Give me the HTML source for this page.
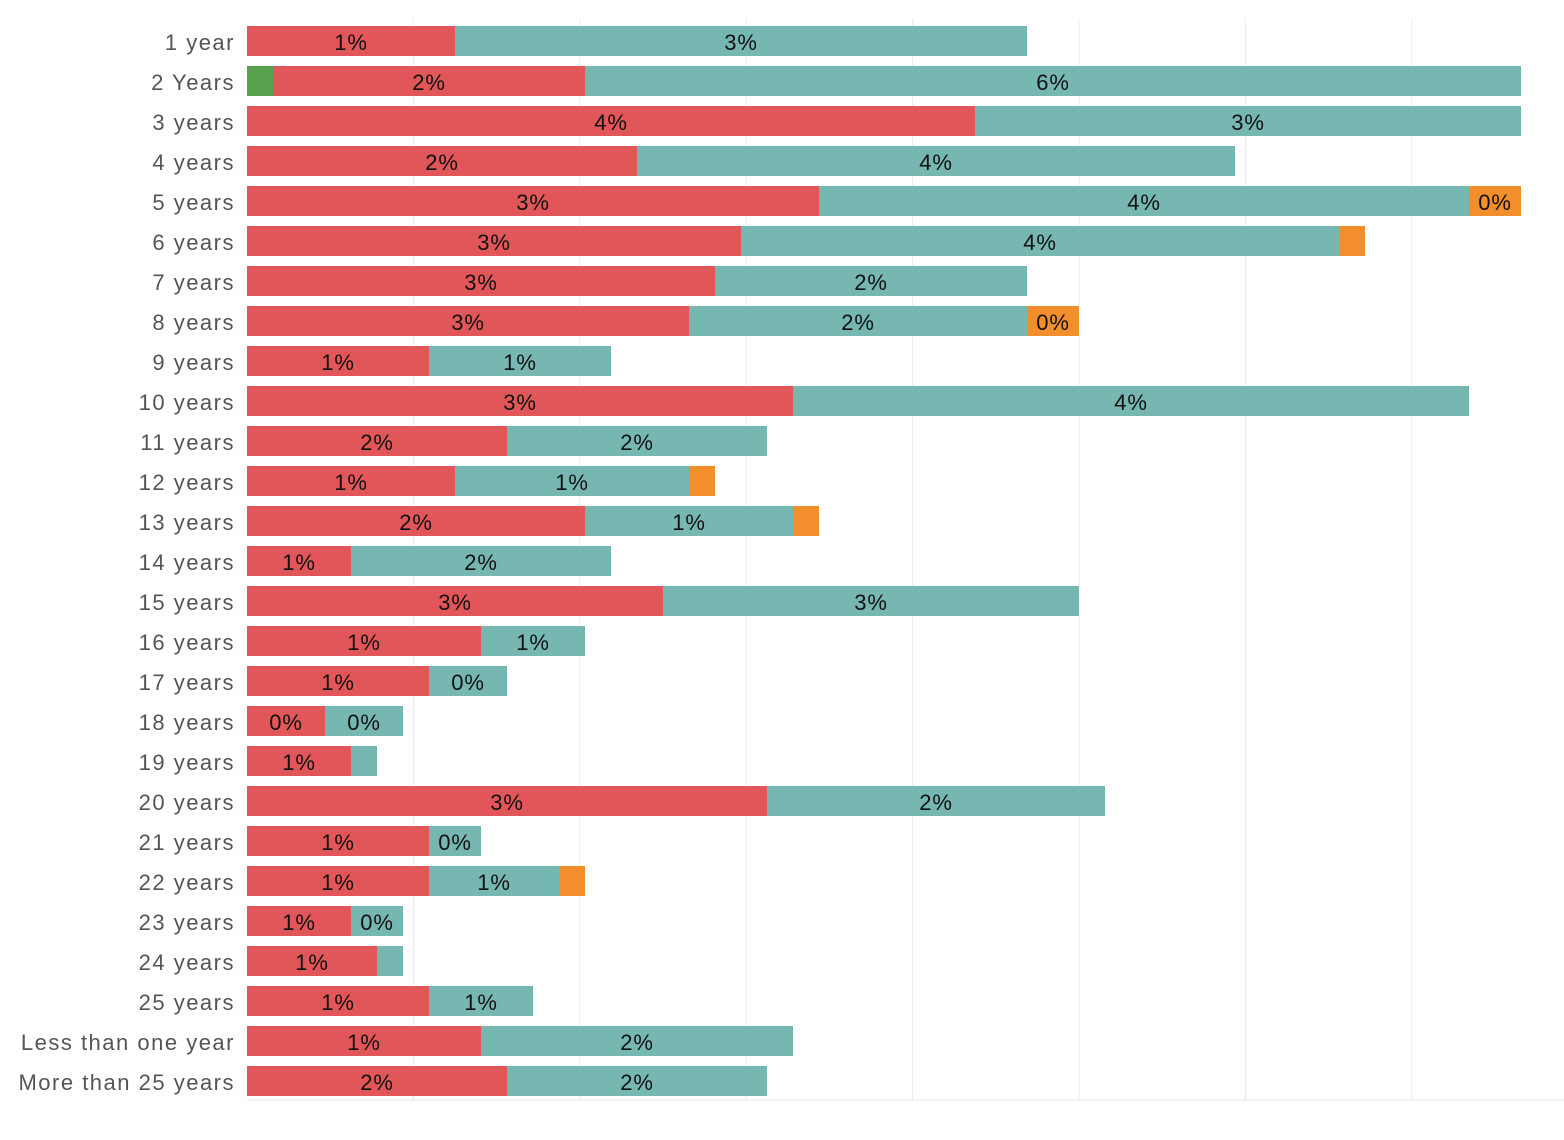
<!DOCTYPE html>
<html><head><meta charset="utf-8">
<style>
html,body{margin:0;padding:0;background:#fff;}
svg{display:block;font-family:"Liberation Sans",sans-serif;}
</style></head>
<body>
<svg id="chart" width="1564" height="1140"></svg>
<script>
const categories = ["1 year","2 Years","3 years","4 years","5 years","6 years","7 years","8 years","9 years","10 years","11 years","12 years","13 years","14 years","15 years","16 years","17 years","18 years","19 years","20 years","21 years","22 years","23 years","24 years","25 years","Less than one year","More than 25 years"];
const greenVals  = [0,1,0,0,0,0,0,0,0,0,0,0,0,0,0,0,0,0,0,0,0,0,0,0,0,0,0];
const redVals    = [8,12,28,15,22,19,18,17,7,21,10,8,13,4,16,9,7,3,4,20,7,7,4,5,7,9,10];
const tealVals   = [22,36,21,23,25,23,12,13,7,26,10,9,8,10,16,4,3,3,1,13,2,5,2,1,4,12,10];
const orangeVals = [0,0,0,0,2,1,0,2,0,0,0,1,1,0,0,0,0,0,0,0,0,1,0,0,0,0,0];
const totalN = 640;
const gridTicks = [1,2,3,4,5,6,7];

const NS="http://www.w3.org/2000/svg";
const svg=document.getElementById('chart');
const x0=247, pxPerPct=166.4, pxPerCount=pxPerPct*100/totalN;
const xs=c=>x0+c*pxPerCount;
const rowY=i=>26+i*40;
function el(t,a){const e=document.createElementNS(NS,t);for(const k in a)e.setAttribute(k,a[k]);svg.appendChild(e);return e;}

gridTicks.forEach(p=>{
  const g=el('line',{x1:xs(p*totalN/100),x2:xs(p*totalN/100),y1:18,y2:1100,stroke:'#ececec','stroke-width':1});
  
  
});
const ax=el('line',{x1:247,x2:1564,y1:1100,y2:1100,stroke:'#e6e6e6','stroke-width':1});



const series=[["green",greenVals,"#59a14f"],["red",redVals,"#e15759"],["teal",tealVals,"#76b7b2"],["orange",orangeVals,"#f28e2b"]];
categories.forEach((cat,i)=>{
  const y=rowY(i);
  const lab=el('text',{x:235,y:y+24,'text-anchor':'end','font-size':22,fill:'#555','letter-spacing':'1.5'});
  lab.textContent=cat;
  
  
  let acc=0;
  series.forEach(([nm,arr,col])=>{
    const v=arr[i]; if(!v) return;
    const r=el('rect',{x:xs(acc),y:y,width:xs(acc+v)-xs(acc),height:30,fill:col});
    
    
    if(v>=2){
      const t=el('text',{x:(xs(acc)+xs(acc+v))/2,y:y+24,'text-anchor':'middle','font-size':22,fill:'#111','letter-spacing':'0.8'});
      t.textContent=Math.round(v/totalN*100)+'%';
      
      
    }
    acc+=v;
  });
});
</script>
</body></html>
